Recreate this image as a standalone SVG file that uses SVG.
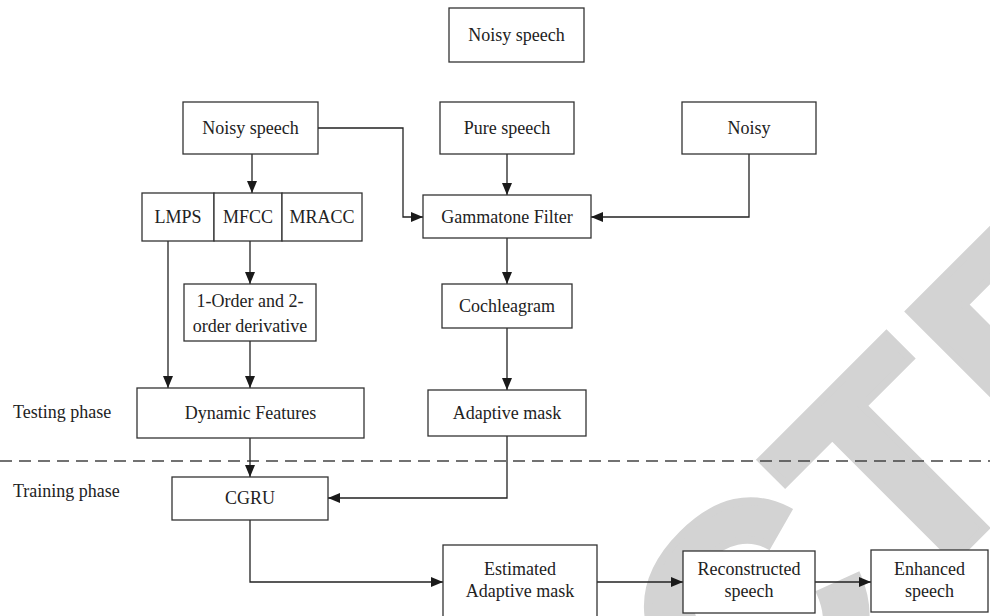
<svg xmlns="http://www.w3.org/2000/svg" width="990" height="616" viewBox="0 0 990 616">
<style>
.box{fill:#fff;stroke:#333;stroke-width:1.3}
.t{font-family:"Liberation Serif","Times New Roman",serif;font-size:18px;fill:#222;text-anchor:middle}
.lbl{font-family:"Liberation Serif","Times New Roman",serif;font-size:18px;fill:#222}
.c{fill:none;stroke:#222;stroke-width:1.3}
.wm{font-family:"Liberation Sans",Arial,sans-serif;font-weight:bold;font-size:300px;fill:#d3d3d3;stroke:#d3d3d3;stroke-width:8}
</style>
<defs>
<marker id="ah" markerWidth="12" markerHeight="10" refX="12" refY="5" orient="auto" markerUnits="userSpaceOnUse"><path d="M0,0 L12,5 L0,10 z" fill="#1a1a1a"/></marker>
</defs>
<rect width="990" height="616" fill="#fff"/>
<g id="watermark" transform="rotate(-45)">
<text class="wm" y="1070"><tspan x="-10">C</tspan><tspan x="210">T</tspan><tspan x="403">E</tspan></text>
</g>
<line x1="0" y1="461" x2="990" y2="461" stroke="#444" stroke-width="1.3" stroke-dasharray="12 7"/>
<text class="lbl" x="13" y="418">Testing phase</text>
<text class="lbl" x="13" y="497">Training phase</text>
<g id="connectors">
<path class="c" d="M252,154 V193" marker-end="url(#ah)"/>
<path class="c" d="M318,128 H403 V217 H423" marker-end="url(#ah)"/>
<path class="c" d="M507,154 V195" marker-end="url(#ah)"/>
<path class="c" d="M749,154 V217 H591" marker-end="url(#ah)"/>
<path class="c" d="M507,238 V284" marker-end="url(#ah)"/>
<path class="c" d="M250,241 V284" marker-end="url(#ah)"/>
<path class="c" d="M168,241 V388" marker-end="url(#ah)"/>
<path class="c" d="M250,341 V388" marker-end="url(#ah)"/>
<path class="c" d="M507,328 V390" marker-end="url(#ah)"/>
<path class="c" d="M250,438 V477" marker-end="url(#ah)"/>
<path class="c" d="M507,436 V498 H328" marker-end="url(#ah)"/>
<path class="c" d="M250,520 V582 H443" marker-end="url(#ah)"/>
<path class="c" d="M597,582 H683" marker-end="url(#ah)"/>
<path class="c" d="M815,582 H871" marker-end="url(#ah)"/>
</g>
<g id="title"><rect class="box" x="449" y="8" width="135" height="54"/><text class="t" x="516.5" y="41">Noisy speech</text></g>
<g id="noisy-speech"><rect class="box" x="183" y="102" width="135" height="52"/><text class="t" x="250.5" y="134">Noisy speech</text></g>
<g id="pure-speech"><rect class="box" x="440" y="102" width="134" height="52"/><text class="t" x="507" y="134">Pure speech</text></g>
<g id="noisy"><rect class="box" x="682" y="102" width="134" height="52"/><text class="t" x="749" y="134">Noisy</text></g>
<g id="lmps"><rect class="box" x="142" y="193" width="72" height="48"/><text class="t" x="178" y="223">LMPS</text></g>
<g id="mfcc"><rect class="box" x="214" y="193" width="68" height="48"/><text class="t" x="248" y="223">MFCC</text></g>
<g id="mracc"><rect class="box" x="282" y="193" width="80" height="48"/><text class="t" x="322" y="223">MRACC</text></g>
<g id="gammatone"><rect class="box" x="423" y="195" width="168" height="43"/><text class="t" x="507" y="223">Gammatone Filter</text></g>
<g id="derivative"><rect class="box" x="184" y="284" width="132" height="57"/><text class="t" x="250" y="307">1-Order and 2-</text><text class="t" x="250" y="332">order derivative</text></g>
<g id="cochleagram"><rect class="box" x="442" y="284" width="130" height="44"/><text class="t" x="507" y="312">Cochleagram</text></g>
<g id="dynamic"><rect class="box" x="137" y="388" width="227" height="50"/><text class="t" x="250.5" y="419">Dynamic Features</text></g>
<g id="adaptive"><rect class="box" x="428" y="390" width="158" height="46"/><text class="t" x="507" y="419">Adaptive mask</text></g>
<g id="cgru"><rect class="box" x="172" y="477" width="156" height="43"/><text class="t" x="250" y="504">CGRU</text></g>
<g id="estimated"><rect class="box" x="443" y="545" width="154" height="76"/><text class="t" x="520" y="575">Estimated</text><text class="t" x="520" y="597">Adaptive mask</text></g>
<g id="reconstructed"><rect class="box" x="683" y="551" width="132" height="62"/><text class="t" x="749" y="575">Reconstructed</text><text class="t" x="749" y="597">speech</text></g>
<g id="enhanced"><rect class="box" x="871" y="550" width="117" height="62"/><text class="t" x="929.5" y="575">Enhanced</text><text class="t" x="929.5" y="597">speech</text></g>
</svg>
